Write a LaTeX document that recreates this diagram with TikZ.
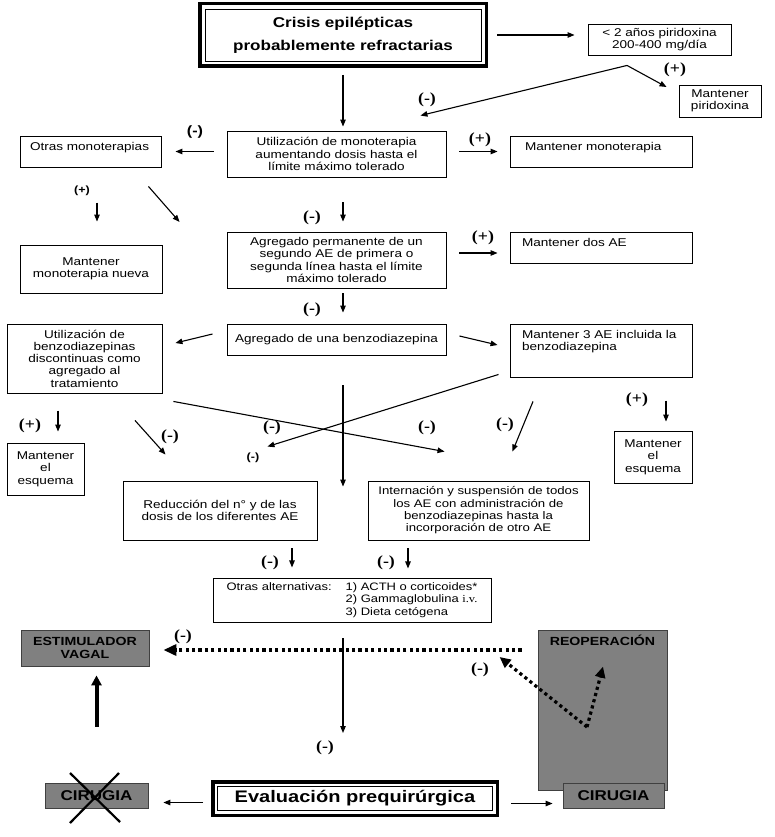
\documentclass[tikz,border=0pt]{standalone}
\usepackage{fontspec}
\setmainfont[FakeStretch=1.2]{Liberation Sans}
\newfontfamily\signfont[FakeStretch=1.15]{Liberation Serif}
\usetikzlibrary{arrows.meta,calc}
\definecolor{boxgray}{RGB}{128,128,128}

\tikzset{
    box/.style={draw, line width=0.9pt, inner sep=3pt, font=\fontsize{11.3}{12.3}\selectfont},
    cbox/.style={box, align=center},
    boxtl/.style={box, inner xsep=12pt, inner ysep=6pt},
    titlebox/.style={draw, line width=3.5pt, inner sep=2pt, align=center, font=\bfseries\fontsize{14.2}{23}\selectfont},
    graybox/.style={draw=black!75, fill=boxgray, line width=0.8pt, inner sep=2pt, align=center, font=\bfseries\fontsize{11.8}{12.5}\selectfont},
    arr/.style={-{Triangle[length=7pt,width=5.5pt]}, line width=1.1pt},
    dotarr/.style={-{Triangle[length=13pt,width=11pt]}, line width=3.2pt, dash pattern=on 3.2pt off 3.2pt},
    sgn/.style={font=\signfont\bfseries\fontsize{15.5}{15.5}\selectfont, inner sep=0pt},
    sgnsf/.style={font=\bfseries\fontsize{10.5}{10.5}\selectfont, inner sep=0pt}
}

\begin{document}
\begin{tikzpicture}[x=1pt, y=-1pt]
\useasboundingbox (0, 0) rectangle (774, 837);
\begin{scope}
    % Define nodes
    \draw (343, 35) node[titlebox, minimum width=286.5pt, minimum height=62.5pt] (Crisis) {Crisis epilépticas\\probablemente refractarias};
    \draw[line width=0.8pt] ($(Crisis.north west)+(7, 7)$) rectangle ($(Crisis.south east)+(-7, -7)$);
    \draw (659.5, 39.5) node[cbox, minimum width=143pt, minimum height=31pt] (Pirid) {< 2 años piridoxina\\200-400 mg/día};
    \draw (720, 101) node[cbox, minimum width=82pt, minimum height=32pt] (MantPir) {Mantener\\piridoxina};

    \draw (336.5, 154) node[cbox, minimum width=219pt, minimum height=46pt] (Mono) {Utilización de monoterapia\\aumentando dosis hasta el\\límite máximo tolerado};
    \draw (90.5, 151.5) node[boxtl, inner xsep=10pt] (Otras) {\parbox[t][19pt][t]{121pt}{\mbox{Otras monoterapias}}};
    \draw (601, 151.5) node[boxtl] (MantMono) {\parbox[t][19pt][t]{158pt}{\hspace*{3pt}Mantener monoterapia}};

    \draw (91, 269) node[cbox, minimum width=142pt, minimum height=48pt] (MantNueva) {Mantener\\monoterapia nueva};
    \draw (336.5, 260) node[cbox, minimum width=219pt, minimum height=56pt] (Agreg) {Agregado permanente de un\\segundo AE de primera o\\segunda línea hasta el límite\\máximo tolerado};
    \draw (601, 247.5) node[boxtl] (MantDos) {\parbox[t][19pt][t]{158pt}{Mantener dos AE}};

    \draw (84.5, 358.5) node[cbox, minimum width=155pt, minimum height=69pt] (Discont) {Utilización de\\benzodiazepinas\\discontinuas como\\agregado al\\tratamiento};
    \draw (336.5, 339.5) node[cbox, minimum width=219pt, minimum height=31pt] (Benzo) {Agregado de una benzodiazepina};
    \draw (601, 350.5) node[boxtl] (Mant3) {\parbox[t][41pt][t]{158pt}{Mantener 3 AE incluida la\\benzodiazepina}};

    \draw (45.5, 469) node[cbox, minimum width=77pt, minimum height=52pt] (EsqL) {Mantener\\el\\esquema};
    \draw (653, 457) node[cbox, minimum width=78pt, minimum height=52pt] (EsqR) {Mantener\\el\\esquema};
    \draw (220, 510.5) node[cbox, minimum width=194pt, minimum height=59pt] (Reduc) {Reducción del n° y de las\\dosis de los diferentes AE};
    \draw (478.5, 510.5) node[cbox, minimum width=221pt, minimum height=59pt, font=\fontsize{11}{12.3}\selectfont] (Intern) {Internación y suspensión de todos\\los AE con administración de\\benzodiazepinas hasta la\\incorporación de otro AE};

    \draw (352, 600) node[box, minimum width=278pt, minimum height=44pt, font=\fontsize{10.8}{12.5}\selectfont] (OtrasAlt) {\begin{tabular}{@{}l@{\hspace{14pt}}l@{}}Otras alternativas: & 1) ACTH o corticoides*\\ & 2) Gammaglobulina {\signfont i.v.}\\ & 3) Dieta cetógena\end{tabular}};

    % Surgical options
    \draw (85, 648) node[graybox, minimum width=128pt, minimum height=36pt] (Estim) {ESTIMULADOR\\VAGAL};
    \draw (602.5, 710) node[graybox, inner sep=5pt] (Reop) {\parbox[t][150pt][t]{119pt}{\centering REOPERACIÓN}};
    \draw (613.5, 795.5) node[graybox, minimum width=101pt, minimum height=25pt, font=\bfseries\fontsize{14.2}{15}\selectfont] (CirR) {CIRUGIA};
    \draw (96.5, 795.5) node[graybox, minimum width=103pt, minimum height=25pt, font=\bfseries\fontsize{14.2}{15}\selectfont] (CirL) {CIRUGIA};
    \draw (355, 798.5) node[titlebox, minimum width=284.5pt, minimum height=33.5pt, font=\bfseries\fontsize{16.7}{20}\selectfont] (Eval) {Evaluación prequirúrgica};
    \draw[line width=0.8pt] ($(Eval.north west)+(6.5, 6.5)$) rectangle ($(Eval.south east)+(-6.5, -6.5)$);

    % Cross over the left surgery box
    \draw[line width=2.2pt] ($(CirL.center)+(-26.5, -22.5)$) -- ($(CirL.center)+(23.5, 26.5)$);
    \draw[line width=2.2pt] ($(CirL.center)+(22.5, -22.5)$) -- ($(CirL.center)+(-26.5, 27.5)$);

    % Piridoxina branch
    \draw[arr, shorten <=9pt, shorten >=13pt] (Crisis.east) -- (Crisis.east -| Pirid.west);
    \coordinate (PirSplit) at ($(Pirid.south)+(-32.5, 10)$);
    \draw[arr] (PirSplit) -- ($(MantPir.west)+(-12, -14)$);
    \draw[arr] (PirSplit) -- ($(Mono.north east)+(-26, -15)$);

    % Main column
    \draw[arr, shorten <=7pt, shorten >=4pt] (Crisis.south) -- (Crisis.south |- Mono.north);
    \draw[arr, shorten <=13pt, shorten >=14pt] (Mono.west |- Otras.east) -- (Otras.east);
    \draw[arr, shorten <=13pt, shorten >=12pt] (Mono.east |- MantMono.west) -- (MantMono.west);
    \draw[arr] ($(MantNueva.north)+(6, -42)$) -- ($(MantNueva.north)+(6, -23)$);
    \draw[arr] ($(Otras.south east)+(-13, 19)$) -- ($(Agreg.west)+(-47, -38)$);
    \draw[arr, shorten <=25pt, shorten >=10pt] (Crisis.south |- Mono.south) -- (Crisis.south |- Agreg.north);
    \draw[arr] ($(Agreg.east)+(13, -7)$) -- ($(MantDos.west)+(-12, 5.5)$);
    \draw[arr, shorten <=5pt, shorten >=11pt] (Crisis.south |- Agreg.south) -- (Crisis.south |- Benzo.north);
    \draw[arr] ($(Benzo.west)+(-14, -5.5)$) -- ($(Discont.east)+(13, -15.5)$);
    \draw[arr] ($(Benzo.east)+(13, -3.5)$) -- ($(Mant3.west)+(-12, -5.5)$);

    % Crossing branches
    \draw[arr] ($(Discont.south east)+(11, 8)$) -- ($(Intern.north west)+(77, -29)$);
    \draw[arr] ($(Mant3.south west)+(-11, -3)$) -- ($(Reduc.north east)+(-50, -34)$);
    \draw[arr] ($(Mant3.south)+(-68, 24)$) -- ($(Intern.north east)+(-77, -29)$);
    \draw[arr] ($(EsqR.north)+(13, -30)$) -- ($(EsqR.north)+(13, -9)$);
    \draw[arr] ($(EsqL.north)+(12.5, -32)$) -- ($(EsqL.north)+(12.5, -11)$);
    \draw[arr] ($(Discont.south)+(50.5, 27)$) -- ($(Reduc.north west)+(43, -26)$);
    \draw[arr, shorten <=30pt] (Crisis.south |- Benzo.south) -- ($(Crisis.south |- Reduc.north)+(0, 6)$);
    \draw[arr] ($(Reduc.south)+(72, 8)$) -- ($(Reduc.south)+(72, 27)$);
    \draw[arr] ($(Intern.south)+(-70.5, 8)$) -- ($(Intern.south)+(-70.5, 28)$);
    \draw[arr, shorten <=16pt, shorten >=47pt] (Crisis.south |- OtrasAlt.south) -- (Crisis.south |- Eval.north);

    % Surgery arrows
    \draw[dotarr] ($(Reop.west)+(-16, -60)$) -- ($(Estim.east)+(14, 2)$);
    \draw[-{Triangle[length=10pt,width=10pt]}, line width=4pt, shorten <=56pt, shorten >=9pt] (CirL.north) -- (CirL.north |- Estim.south);
    \draw[arr] ($(Eval.west)+(-8, 4)$) -- ($(CirL.east)+(15, 7)$);
    \draw[arr] ($(Eval.east)+(12, 5)$) -- ($(CirR.west)+(-10, 8)$);
    \coordinate (ReopV) at ($(Reop.center)+(-15.5, 17)$);
    \draw[dotarr, -{Triangle[length=11pt,width=10pt]}] (ReopV) -- ($(Reop.west)+(-38, -53)$);
    \draw[dotarr, -{Triangle[length=11pt,width=10pt]}] (ReopV) -- ($(Reop.north)+(0.5, 37)$);

    % Signs
    \foreach \x/\y/\t [count=\i] in {675/70/{(+)}, 427/100/{(-)}, 480/140/{(+)}, 312/218/{(-)}, 483/238/{(+)}, 312/310/{(-)}, 30/426/{(+)}, 170/437/{(-)}, 272/428/{(-)}, 427/428/{(-)}, 505/425/{(-)}, 637/400/{(+)}, 270/563/{(-)}, 386/563/{(-)}, 183/637/{(-)}, 480/670/{(-)}, 325/748/{(-)}}
        \node[sgn] (S\i) at (\x, \y) {\t};
    \node[sgnsf, font=\bfseries\fontsize{13.5}{13.5}\selectfont] (T1) at (195, 132) {(-)};
    \node[sgnsf] (T2) at (82, 191) {(+)};
    \node[sgnsf] (T3) at (253, 458) {(-)};
\end{scope}
\end{tikzpicture}
\end{document}
